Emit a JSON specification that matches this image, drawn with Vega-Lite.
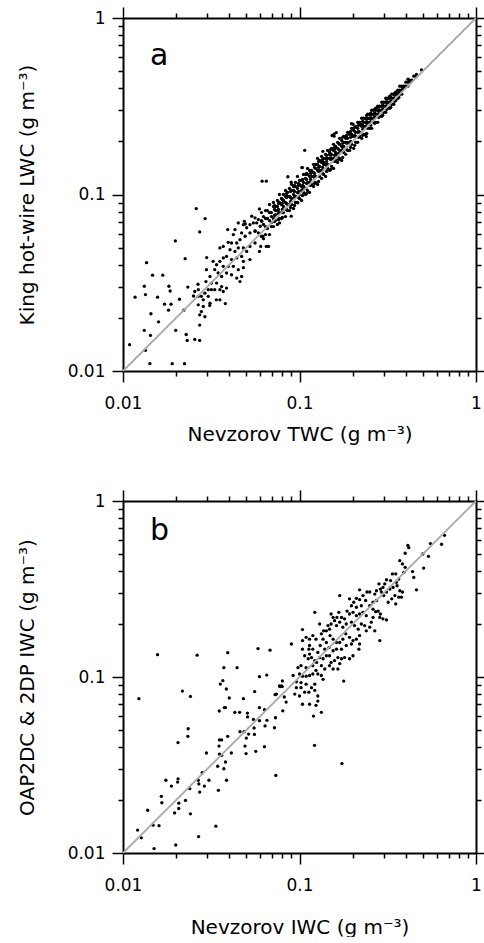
{
"$schema": "https://vega.github.io/schema/vega-lite/v6.json",
"background": "white",
"padding": {"left": 17, "top": 6, "right": 0, "bottom": 0},
"spacing": 45,
"config": {
  "view": {"stroke": null},
  "font": "DejaVu Sans",
  "axis": {
    "ticks": true, "tickOpacity": 1,
    "domainColor": "#000000", "domainWidth": 2, "tickColor": "#000000", "tickWidth": 1.5,
    "labelFont": "DejaVu Sans", "labelFontSize": 17, "labelColor": "black",
    "titleFont": "DejaVu Sans", "titleFontSize": 20, "titleFontWeight": "normal", "titleColor": "black",
    "grid": false, "labelFlush": false, "labelOverlap": false
  }
},
"datasets": {
  "diag": [{"x":0.01,"y":0.01},{"x":1,"y":1}],
  "a": [
{"x":0.0109,"y":0.0141},{"x":0.0117,"y":0.0262},{"x":0.0132,"y":0.0302},{"x":0.0134,"y":0.0271},{"x":0.0136,"y":0.0411},{"x":0.0147,"y":0.0349},{"x":0.0168,"y":0.0349},{"x":0.0132,"y":0.017},{"x":0.0144,"y":0.0211},{"x":0.0159,"y":0.019},{"x":0.0143,"y":0.0159},{"x":0.0142,"y":0.011},{"x":0.019,"y":0.011},{"x":0.0223,"y":0.011},{"x":0.0157,"y":0.0262},{"x":0.0182,"y":0.0302},{"x":0.0185,"y":0.0284},{"x":0.0172,"y":0.0239},{"x":0.0187,"y":0.0239},{"x":0.0181,"y":0.0221},{"x":0.0199,"y":0.017},{"x":0.0198,"y":0.0546},{"x":0.0225,"y":0.0433},{"x":0.026,"y":0.0832},{"x":0.0292,"y":0.073},{"x":0.0272,"y":0.0614},{"x":0.0209,"y":0.0255},{"x":0.0221,"y":0.0221},{"x":0.0228,"y":0.0161},{"x":0.0231,"y":0.0149},{"x":0.0272,"y":0.0149},{"x":0.0251,"y":0.0266},{"x":0.0272,"y":0.0182},{"x":0.0298,"y":0.0439},{"x":0.0233,"y":0.0299},{"x":0.0266,"y":0.031},{"x":0.038,"y":0.0241},{"x":0.0338,"y":0.0253},{"x":0.031,"y":0.0235},{"x":0.0255,"y":0.0151},{"x":0.0614,"y":0.119},{"x":0.0649,"y":0.119},{"x":0.107,"y":0.178},{"x":0.056,"y":0.0621},{"x":0.0493,"y":0.0681},{"x":0.153,"y":0.216},{"x":0.197,"y":0.252},{"x":0.0134,"y":0.0131},
{"x":0.0536,"y":0.0754},{"x":0.056,"y":0.0738},{"x":0.0585,"y":0.0721},{"x":0.0611,"y":0.0705},{"x":0.0572,"y":0.069},{"x":0.0548,"y":0.069},{"x":0.0599,"y":0.0661},{"x":0.0524,"y":0.0675},{"x":0.0502,"y":0.0648},{"x":0.0481,"y":0.0675},{"x":0.045,"y":0.069},{"x":0.0431,"y":0.0633},{"x":0.0422,"y":0.0593},{"x":0.047,"y":0.0606},{"x":0.0492,"y":0.058},{"x":0.0524,"y":0.0606},{"x":0.056,"y":0.0619},{"x":0.0585,"y":0.0606},{"x":0.0619,"y":0.058},{"x":0.046,"y":0.0555},{"x":0.0441,"y":0.0531},{"x":0.0412,"y":0.0531},{"x":0.0395,"y":0.0536},{"x":0.037,"y":0.0508},{"x":0.0354,"y":0.0498},{"x":0.0404,"y":0.0487},{"x":0.0431,"y":0.0476},{"x":0.045,"y":0.0498},{"x":0.0481,"y":0.0498},{"x":0.0502,"y":0.0476},{"x":0.0524,"y":0.0508},{"x":0.056,"y":0.0531},{"x":0.0603,"y":0.0508},{"x":0.047,"y":0.0446},{"x":0.0441,"y":0.0437},{"x":0.0412,"y":0.0428},{"x":0.0386,"y":0.0446},{"x":0.037,"y":0.0437},{"x":0.0354,"y":0.0418},{"x":0.0339,"y":0.04},{"x":0.0324,"y":0.0418},{"x":0.037,"y":0.0392},{"x":0.0395,"y":0.0392},{"x":0.0422,"y":0.0392},{"x":0.045,"y":0.0375},{"x":0.0481,"y":0.0418},{"x":0.047,"y":0.0343},{"x":0.0441,"y":0.0336},{"x":0.0412,"y":0.0351},{"x":0.0386,"y":0.0359},{"x":0.0362,"y":0.0343},{"x":0.0346,"y":0.0359},{"x":0.0331,"y":0.0375},{"x":0.0311,"y":0.0343},{"x":0.0297,"y":0.0375},{"x":0.0295,"y":0.0321},{"x":0.0317,"y":0.0315},{"x":0.0339,"y":0.0315},{"x":0.0362,"y":0.0301},{"x":0.0386,"y":0.0295},{"x":0.037,"y":0.0282},{"x":0.0354,"y":0.0289},{"x":0.0331,"y":0.0289},{"x":0.0317,"y":0.0289},{"x":0.0304,"y":0.0289},{"x":0.0291,"y":0.0276},{"x":0.0278,"y":0.0265},{"x":0.0267,"y":0.0289},{"x":0.0255,"y":0.0282},{"x":0.0267,"y":0.0265},{"x":0.0285,"y":0.0253},{"x":0.0304,"y":0.0265},{"x":0.0311,"y":0.0242},{"x":0.0285,"y":0.0232},{"x":0.0267,"y":0.0237},{"x":0.0278,"y":0.0217},{"x":0.0291,"y":0.0203},{"x":0.0272,"y":0.0208},{"x":0.0354,"y":0.0253},{"x":0.046,"y":0.0321},{"x":0.0481,"y":0.0385},{"x":0.0524,"y":0.0428},
{"x":0.103,"y":0.142},{"x":0.104,"y":0.142},{"x":0.0897,"y":0.1175},{"x":0.0859,"y":0.1261},{"x":0.0593,"y":0.0829},{"x":0.1616,"y":0.2242},{"x":0.157,"y":0.214},{"x":0.1356,"y":0.1756},{"x":0.0978,"y":0.0897},{"x":0.0897,"y":0.0754},{"x":0.077,"y":0.069},{"x":0.0648,"y":0.0508},{"x":0.0668,"y":0.0508},{"x":0.0593,"y":0.0476},{"x":0.0487,"y":0.0705},{"x":0.0392,"y":0.0633},{"x":0.157,"y":0.22},{"x":0.201,"y":0.25},{"x":0.239,"y":0.213},{"x":0.491,"y":0.508},{"x":0.46,"y":0.479},{"x":0.412,"y":0.45},
{"x":0.0609,"y":0.0712},{"x":0.0609,"y":0.0578},{"x":0.0609,"y":0.079},
{"x":0.0625,"y":0.0676},{"x":0.0625,"y":0.075},{"x":0.0625,"y":0.0562},
{"x":0.0642,"y":0.0658},{"x":0.0642,"y":0.0731},{"x":0.0642,"y":0.0811},{"x":0.0642,"y":0.0593},
{"x":0.0658,"y":0.0731},{"x":0.0658,"y":0.0642},{"x":0.0658,"y":0.0811},
{"x":0.0676,"y":0.0712},{"x":0.0676,"y":0.079},{"x":0.0676,"y":0.0593},{"x":0.0676,"y":0.0878},
{"x":0.0693,"y":0.079},{"x":0.0693,"y":0.0693},{"x":0.0693,"y":0.075},{"x":0.0693,"y":0.0658},
{"x":0.0712,"y":0.0855},{"x":0.0712,"y":0.0731},{"x":0.0712,"y":0.0658},{"x":0.0712,"y":0.0901},
{"x":0.0731,"y":0.0811},{"x":0.0731,"y":0.0855},{"x":0.0731,"y":0.0712},{"x":0.0731,"y":0.077},
{"x":0.075,"y":0.0925},{"x":0.075,"y":0.0811},{"x":0.075,"y":0.0676},{"x":0.075,"y":0.0855},
{"x":0.077,"y":0.079},{"x":0.077,"y":0.0901},{"x":0.077,"y":0.0731},{"x":0.077,"y":0.1},
{"x":0.079,"y":0.0878},{"x":0.079,"y":0.0949},{"x":0.079,"y":0.079},{"x":0.079,"y":0.0731},
{"x":0.0811,"y":0.0925},{"x":0.0811,"y":0.0855},{"x":0.0811,"y":0.1},{"x":0.0811,"y":0.079},
{"x":0.0833,"y":0.0901},{"x":0.0833,"y":0.0974},{"x":0.0833,"y":0.075},{"x":0.0833,"y":0.1054},
{"x":0.0855,"y":0.0878},{"x":0.0855,"y":0.0974},{"x":0.0855,"y":0.0811},{"x":0.0855,"y":0.1027},
{"x":0.0878,"y":0.0974},{"x":0.0878,"y":0.1082},{"x":0.0878,"y":0.0878},{"x":0.0878,"y":0.0811},
{"x":0.0901,"y":0.1054},{"x":0.0901,"y":0.0949},{"x":0.0901,"y":0.0878},{"x":0.0901,"y":0.114},
{"x":0.0925,"y":0.1},{"x":0.0925,"y":0.1054},{"x":0.0925,"y":0.0833},{"x":0.0925,"y":0.111},
{"x":0.0949,"y":0.0974},{"x":0.0949,"y":0.111},{"x":0.0949,"y":0.117},{"x":0.0949,"y":0.0901},
{"x":0.0974,"y":0.1082},{"x":0.0974,"y":0.1027},{"x":0.0974,"y":0.0901},{"x":0.0974,"y":0.1266},
{"x":0.1,"y":0.114},{"x":0.1,"y":0.1201},{"x":0.1,"y":0.1},{"x":0.1,"y":0.0949},
{"x":0.1027,"y":0.111},{"x":0.1027,"y":0.1201},{"x":0.1027,"y":0.0925},{"x":0.1027,"y":0.1054},
{"x":0.1054,"y":0.1299},{"x":0.1054,"y":0.117},{"x":0.1054,"y":0.1027},{"x":0.1054,"y":0.111},
{"x":0.1082,"y":0.1233},{"x":0.1082,"y":0.1299},{"x":0.1082,"y":0.1},{"x":0.1082,"y":0.1082},
{"x":0.111,"y":0.117},{"x":0.111,"y":0.1299},{"x":0.111,"y":0.1054},{"x":0.111,"y":0.1405},
{"x":0.114,"y":0.1266},{"x":0.114,"y":0.117},{"x":0.114,"y":0.1027},{"x":0.114,"y":0.1369},
{"x":0.117,"y":0.1369},{"x":0.117,"y":0.1266},{"x":0.117,"y":0.114},{"x":0.117,"y":0.1334},
{"x":0.1201,"y":0.1481},{"x":0.1201,"y":0.1266},{"x":0.1201,"y":0.111},{"x":0.1201,"y":0.1334},
{"x":0.1233,"y":0.1405},{"x":0.1233,"y":0.1266},{"x":0.1233,"y":0.117},{"x":0.1233,"y":0.1481},
{"x":0.1266,"y":0.1369},{"x":0.1266,"y":0.1481},{"x":0.1266,"y":0.114},{"x":0.1266,"y":0.1602},
{"x":0.1299,"y":0.1442},{"x":0.1299,"y":0.1369},{"x":0.1299,"y":0.1266},{"x":0.1299,"y":0.156},
{"x":0.1334,"y":0.152},{"x":0.1334,"y":0.1644},{"x":0.1334,"y":0.1233},{"x":0.1334,"y":0.1369},
{"x":0.1369,"y":0.1602},{"x":0.1369,"y":0.1481},{"x":0.1369,"y":0.1299},{"x":0.1369,"y":0.152},
{"x":0.1405,"y":0.1481},{"x":0.1405,"y":0.1688},{"x":0.1405,"y":0.1266},{"x":0.1405,"y":0.1602},
{"x":0.1442,"y":0.1602},{"x":0.1442,"y":0.1481},{"x":0.1442,"y":0.1405},{"x":0.1442,"y":0.1778},
{"x":0.1481,"y":0.1733},{"x":0.1481,"y":0.1602},{"x":0.1481,"y":0.1369},{"x":0.1481,"y":0.1688},
{"x":0.152,"y":0.1826},{"x":0.152,"y":0.1602},{"x":0.152,"y":0.1442},{"x":0.152,"y":0.1688},
{"x":0.156,"y":0.1778},{"x":0.156,"y":0.1602},{"x":0.156,"y":0.1405},{"x":0.156,"y":0.1924},
{"x":0.1602,"y":0.1733},{"x":0.1602,"y":0.1874},{"x":0.1602,"y":0.156},{"x":0.1602,"y":0.1688},
{"x":0.1644,"y":0.1826},{"x":0.1644,"y":0.1974},{"x":0.1644,"y":0.152},{"x":0.1644,"y":0.1644},
{"x":0.1688,"y":0.1924},{"x":0.1688,"y":0.1778},{"x":0.1688,"y":0.1602},{"x":0.1688,"y":0.2081},
{"x":0.1733,"y":0.2027},{"x":0.1733,"y":0.1874},{"x":0.1733,"y":0.156},{"x":0.1733,"y":0.1778},
{"x":0.1778,"y":0.1974},{"x":0.1778,"y":0.2136},{"x":0.1778,"y":0.1733},{"x":0.1778,"y":0.1874},
{"x":0.1826,"y":0.2081},{"x":0.1826,"y":0.1974},{"x":0.1826,"y":0.1688},{"x":0.1826,"y":0.2136},
{"x":0.1874,"y":0.1974},{"x":0.1874,"y":0.225},{"x":0.1874,"y":0.1778},{"x":0.1874,"y":0.2081},
{"x":0.1924,"y":0.225},{"x":0.1924,"y":0.1974},{"x":0.1924,"y":0.1778},{"x":0.1924,"y":0.2192},
{"x":0.1974,"y":0.2192},{"x":0.1974,"y":0.2136},{"x":0.1974,"y":0.1924},{"x":0.1974,"y":0.2372},
{"x":0.2027,"y":0.231},{"x":0.2027,"y":0.2136},{"x":0.2027,"y":0.1826},{"x":0.2027,"y":0.2372},
{"x":0.2081,"y":0.225},{"x":0.2081,"y":0.2434},{"x":0.2081,"y":0.1974},{"x":0.2081,"y":0.2136},
{"x":0.2136,"y":0.2372},{"x":0.2136,"y":0.2565},{"x":0.2136,"y":0.1974},{"x":0.2136,"y":0.225},
{"x":0.2192,"y":0.2499},{"x":0.2192,"y":0.225},{"x":0.2192,"y":0.2136},{"x":0.2192,"y":0.2565},
{"x":0.225,"y":0.2434},{"x":0.225,"y":0.2499},{"x":0.225,"y":0.2081},{"x":0.225,"y":0.2703},
{"x":0.231,"y":0.2703},{"x":0.231,"y":0.2434},{"x":0.231,"y":0.2192},{"x":0.231,"y":0.2565},
{"x":0.2372,"y":0.2703},{"x":0.2372,"y":0.2434},{"x":0.2372,"y":0.2192},{"x":0.2372,"y":0.2565},
{"x":0.2434,"y":0.2703},{"x":0.2434,"y":0.2848},{"x":0.2434,"y":0.2372},{"x":0.2434,"y":0.2565},
{"x":0.2499,"y":0.2703},{"x":0.2499,"y":0.2848},{"x":0.2499,"y":0.2372},{"x":0.2499,"y":0.2565},
{"x":0.2565,"y":0.2848},{"x":0.2565,"y":0.2703},{"x":0.2565,"y":0.2372},{"x":0.2565,"y":0.3001},
{"x":0.2634,"y":0.3001},{"x":0.2634,"y":0.2848},{"x":0.2634,"y":0.2565},{"x":0.2634,"y":0.2703},
{"x":0.2703,"y":0.2848},{"x":0.2703,"y":0.3001},{"x":0.2703,"y":0.2565},{"x":0.2703,"y":0.3081},
{"x":0.2775,"y":0.3001},{"x":0.2775,"y":0.2848},{"x":0.2775,"y":0.2565},{"x":0.2775,"y":0.3162},
{"x":0.2848,"y":0.3162},{"x":0.2848,"y":0.3001},{"x":0.2848,"y":0.2775},
{"x":0.2924,"y":0.3162},{"x":0.2924,"y":0.3332},{"x":0.2924,"y":0.2775},{"x":0.2924,"y":0.3001},
{"x":0.3001,"y":0.3162},{"x":0.3001,"y":0.3332},{"x":0.3001,"y":0.2924},
{"x":0.3081,"y":0.3332},{"x":0.3081,"y":0.3162},{"x":0.3081,"y":0.2924},{"x":0.3081,"y":0.3511},
{"x":0.3162,"y":0.3511},{"x":0.3162,"y":0.3332},{"x":0.3162,"y":0.3081},
{"x":0.3246,"y":0.3511},{"x":0.3246,"y":0.3332},{"x":0.3246,"y":0.3081},{"x":0.3246,"y":0.3605},
{"x":0.3332,"y":0.3511},{"x":0.3332,"y":0.37},{"x":0.3332,"y":0.3246},
{"x":0.3421,"y":0.37},{"x":0.3421,"y":0.3511},{"x":0.3421,"y":0.3246},
{"x":0.3511,"y":0.37},{"x":0.3511,"y":0.3798},{"x":0.3511,"y":0.3421},
{"x":0.3605,"y":0.3899},{"x":0.3605,"y":0.37},{"x":0.3605,"y":0.3511},
{"x":0.37,"y":0.3899},{"x":0.37,"y":0.4108},{"x":0.37,"y":0.37},
{"x":0.3798,"y":0.3899},{"x":0.3798,"y":0.4108},{"x":0.3798,"y":0.37},
{"x":0.3899,"y":0.4108},{"x":0.3899,"y":0.4003},
{"x":0.4003,"y":0.4108},{"x":0.4003,"y":0.4329},
{"x":0.4108,"y":0.4329},{"x":0.4108,"y":0.4108},
{"x":0.4217,"y":0.4329},{"x":0.4217,"y":0.4444},
{"x":0.4329,"y":0.4444},{"x":0.4444,"y":0.4683},{"x":0.4561,"y":0.4683},
{"x":0.0721,"y":0.076},{"x":0.0721,"y":0.0822},{"x":0.0721,"y":0.0702},{"x":0.0721,"y":0.0866},
{"x":0.076,"y":0.0822},{"x":0.076,"y":0.089},{"x":0.076,"y":0.0721},{"x":0.076,"y":0.078},
{"x":0.08,"y":0.089},{"x":0.08,"y":0.0822},{"x":0.08,"y":0.0741},{"x":0.08,"y":0.0937},
{"x":0.0844,"y":0.089},{"x":0.0844,"y":0.0962},{"x":0.0844,"y":0.0822},{"x":0.0844,"y":0.1013},
{"x":0.089,"y":0.0962},{"x":0.089,"y":0.1041},{"x":0.089,"y":0.0844},{"x":0.089,"y":0.0913},
{"x":0.0937,"y":0.1041},{"x":0.0937,"y":0.0962},{"x":0.0937,"y":0.0866},{"x":0.0937,"y":0.1125},
{"x":0.0987,"y":0.1041},{"x":0.0987,"y":0.1125},{"x":0.0987,"y":0.0962},{"x":0.0987,"y":0.1155},
{"x":0.1041,"y":0.1125},{"x":0.1041,"y":0.1217},{"x":0.1041,"y":0.0987},{"x":0.1041,"y":0.1068},
{"x":0.1096,"y":0.1217},{"x":0.1096,"y":0.1155},{"x":0.1096,"y":0.1013},{"x":0.1096,"y":0.1316},
{"x":0.1155,"y":0.1217},{"x":0.1155,"y":0.1316},{"x":0.1155,"y":0.1125},{"x":0.1155,"y":0.1352},
{"x":0.1217,"y":0.1316},{"x":0.1217,"y":0.1424},{"x":0.1217,"y":0.1155},{"x":0.1217,"y":0.1249},
{"x":0.1283,"y":0.1424},{"x":0.1283,"y":0.1352},{"x":0.1283,"y":0.1185},{"x":0.1283,"y":0.154},
{"x":0.1352,"y":0.1424},{"x":0.1352,"y":0.154},{"x":0.1352,"y":0.1316},{"x":0.1352,"y":0.1581},
{"x":0.1424,"y":0.154},{"x":0.1424,"y":0.1666},{"x":0.1424,"y":0.1352},{"x":0.1424,"y":0.1461},
{"x":0.1501,"y":0.1666},{"x":0.1501,"y":0.1581},{"x":0.1501,"y":0.1387},{"x":0.1501,"y":0.1801},
{"x":0.1581,"y":0.1666},{"x":0.1581,"y":0.1801},{"x":0.1581,"y":0.154},{"x":0.1581,"y":0.185},
{"x":0.1666,"y":0.1801},{"x":0.1666,"y":0.1949},{"x":0.1666,"y":0.1581},{"x":0.1666,"y":0.171},
{"x":0.1756,"y":0.1949},{"x":0.1756,"y":0.185},{"x":0.1756,"y":0.1623},{"x":0.1756,"y":0.2108},
{"x":0.185,"y":0.1949},{"x":0.185,"y":0.2108},{"x":0.185,"y":0.1801},{"x":0.185,"y":0.2164},
{"x":0.1949,"y":0.2108},{"x":0.1949,"y":0.228},{"x":0.1949,"y":0.185},{"x":0.1949,"y":0.2},
{"x":0.2054,"y":0.228},{"x":0.2054,"y":0.2164},{"x":0.2054,"y":0.1899},{"x":0.2054,"y":0.2403},
{"x":0.2164,"y":0.228},{"x":0.2164,"y":0.2466},{"x":0.2164,"y":0.2108},{"x":0.2164,"y":0.2532},
{"x":0.228,"y":0.2466},{"x":0.228,"y":0.2599},{"x":0.228,"y":0.2164},{"x":0.228,"y":0.234},
{"x":0.2403,"y":0.2669},{"x":0.2403,"y":0.2532},{"x":0.2403,"y":0.2221},{"x":0.2403,"y":0.2812},
{"x":0.2532,"y":0.2669},{"x":0.2532,"y":0.2886},{"x":0.2532,"y":0.2466},{"x":0.2532,"y":0.2812},
{"x":0.2669,"y":0.2886},{"x":0.2669,"y":0.2739},{"x":0.2669,"y":0.2532},{"x":0.2669,"y":0.3041},
{"x":0.2812,"y":0.2963},{"x":0.2812,"y":0.3122},{"x":0.2812,"y":0.2739},
{"x":0.2963,"y":0.3204},{"x":0.2963,"y":0.3041},{"x":0.2963,"y":0.2812},
{"x":0.3122,"y":0.3289},{"x":0.3122,"y":0.3466},{"x":0.3122,"y":0.3041},
{"x":0.3289,"y":0.3557},{"x":0.3289,"y":0.3376},{"x":0.3289,"y":0.3122},
{"x":0.3466,"y":0.3653},{"x":0.3466,"y":0.3749},{"x":0.3466,"y":0.3376},
{"x":0.3653,"y":0.3848},{"x":0.3653,"y":0.3749},{"x":0.3653,"y":0.3557},
{"x":0.3848,"y":0.4056},{"x":0.3848,"y":0.395}
  ],
  "b": [
{"x":0.0123,"y":0.0753},{"x":0.0157,"y":0.134},{"x":0.0263,"y":0.133},{"x":0.0217,"y":0.0832},{"x":0.0241,"y":0.0776},{"x":0.0234,"y":0.0508},{"x":0.0233,"y":0.046},{"x":0.0205,"y":0.0424},{"x":0.0392,"y":0.1375},{"x":0.0373,"y":0.113},{"x":0.0443,"y":0.113},{"x":0.0368,"y":0.0953},{"x":0.0356,"y":0.0912},{"x":0.0385,"y":0.0855},{"x":0.04,"y":0.076},{"x":0.0351,"y":0.0641},{"x":0.0375,"y":0.067},{"x":0.0381,"y":0.067},{"x":0.043,"y":0.063},{"x":0.0458,"y":0.063},{"x":0.0481,"y":0.0753},{"x":0.0582,"y":0.145},{"x":0.0681,"y":0.142},{"x":0.0593,"y":0.1004},{"x":0.0652,"y":0.1026},{"x":0.0557,"y":0.0826},{"x":0.0593,"y":0.067},{"x":0.0633,"y":0.0652},{"x":0.0507,"y":0.0624},{"x":0.0508,"y":0.0593},{"x":0.0548,"y":0.0574},{"x":0.0654,"y":0.0567},{"x":0.0731,"y":0.0587},{"x":0.0721,"y":0.0515},{"x":0.0638,"y":0.0527},{"x":0.0555,"y":0.0472},{"x":0.0485,"y":0.0489},{"x":0.046,"y":0.0489},{"x":0.05,"y":0.045},{"x":0.0491,"y":0.0405},{"x":0.0498,"y":0.0367},{"x":0.0565,"y":0.0378},{"x":0.0633,"y":0.0402},{"x":0.0734,"y":0.0276},{"x":0.0352,"y":0.0439},{"x":0.035,"y":0.0405},{"x":0.0362,"y":0.0439},{"x":0.0392,"y":0.046},{"x":0.0352,"y":0.0365},{"x":0.0362,"y":0.0359},{"x":0.0411,"y":0.037},{"x":0.0297,"y":0.037},{"x":0.0381,"y":0.0329},{"x":0.0344,"y":0.0311},{"x":0.0373,"y":0.0301},{"x":0.0386,"y":0.0259},{"x":0.0281,"y":0.0286},{"x":0.0267,"y":0.0259},{"x":0.0269,"y":0.0247},{"x":0.0307,"y":0.0259},{"x":0.0289,"y":0.024},{"x":0.0272,"y":0.0222},{"x":0.0347,"y":0.0227},{"x":0.0239,"y":0.0232},{"x":0.0226,"y":0.0199},{"x":0.0207,"y":0.0192},{"x":0.0207,"y":0.0179},{"x":0.0196,"y":0.0169},{"x":0.0241,"y":0.0167},{"x":0.0175,"y":0.0259},{"x":0.0188,"y":0.024},{"x":0.0205,"y":0.0264},{"x":0.0204,"y":0.0253},{"x":0.0165,"y":0.021},{"x":0.0166,"y":0.0193},{"x":0.0138,"y":0.0175},{"x":0.016,"y":0.0143},{"x":0.0148,"y":0.0144},{"x":0.0121,"y":0.0135},{"x":0.0127,"y":0.0122},{"x":0.015,"y":0.0106},{"x":0.0199,"y":0.0111},{"x":0.0268,"y":0.0124},{"x":0.0336,"y":0.0142},{"x":0.1216,"y":0.0409},{"x":0.174,"y":0.0322},{"x":0.178,"y":0.0948},{"x":0.505,"y":0.416},{"x":0.5,"y":0.5},{"x":0.538,"y":0.485},{"x":0.552,"y":0.573},{"x":0.638,"y":0.568},{"x":0.663,"y":0.638},{"x":0.411,"y":0.56},{"x":0.416,"y":0.543},
{"x":0.0727,"y":0.0794},{"x":0.0777,"y":0.0882},{"x":0.0798,"y":0.0882},{"x":0.0593,"y":0.0565},{"x":0.0553,"y":0.0513},{"x":0.0515,"y":0.0474},{"x":0.0804,"y":0.0642},{"x":0.12,"y":0.06},{"x":0.133,"y":0.063},{"x":0.397,"y":0.505},
{"x":0.37,"y":0.458},{"x":0.383,"y":0.439},{"x":0.397,"y":0.42},{"x":0.39,"y":0.393},{"x":0.437,"y":0.397},{"x":0.444,"y":0.368},{"x":0.46,"y":0.313},{"x":0.351,"y":0.385},{"x":0.336,"y":0.385},{"x":0.365,"y":0.36},{"x":0.354,"y":0.345},{"x":0.328,"y":0.353},{"x":0.311,"y":0.357},{"x":0.304,"y":0.338},{"x":0.297,"y":0.323},{"x":0.282,"y":0.338},{"x":0.287,"y":0.316},{"x":0.273,"y":0.309},{"x":0.267,"y":0.296},{"x":0.325,"y":0.316},{"x":0.339,"y":0.323},{"x":0.357,"y":0.33},{"x":0.37,"y":0.309},{"x":0.383,"y":0.304},{"x":0.365,"y":0.284},{"x":0.378,"y":0.284},{"x":0.347,"y":0.29},{"x":0.333,"y":0.278},{"x":0.351,"y":0.26},{"x":0.318,"y":0.266},{"x":0.3,"y":0.29},{"x":0.311,"y":0.304},{"x":0.291,"y":0.304},{"x":0.25,"y":0.304},{"x":0.241,"y":0.304},{"x":0.219,"y":0.313},{"x":0.229,"y":0.29},{"x":0.237,"y":0.272},{"x":0.219,"y":0.275},{"x":0.21,"y":0.28},{"x":0.203,"y":0.266},{"x":0.197,"y":0.254},{"x":0.21,"y":0.249},{"x":0.224,"y":0.254},{"x":0.25,"y":0.254},{"x":0.261,"y":0.266},{"x":0.273,"y":0.272},{"x":0.261,"y":0.243},{"x":0.27,"y":0.235},{"x":0.279,"y":0.237},{"x":0.287,"y":0.228},{"x":0.285,"y":0.218},{"x":0.297,"y":0.214},{"x":0.311,"y":0.211},{"x":0.261,"y":0.218},{"x":0.255,"y":0.205},{"x":0.239,"y":0.223},{"x":0.229,"y":0.233},{"x":0.219,"y":0.228},{"x":0.21,"y":0.223},{"x":0.201,"y":0.233},{"x":0.192,"y":0.228},{"x":0.186,"y":0.237},{"x":0.18,"y":0.214},{"x":0.173,"y":0.218},{"x":0.167,"y":0.233},{"x":0.163,"y":0.218},{"x":0.169,"y":0.205},{"x":0.158,"y":0.209},{"x":0.155,"y":0.218},{"x":0.151,"y":0.2},{"x":0.148,"y":0.187},{"x":0.145,"y":0.196},{"x":0.142,"y":0.183},{"x":0.137,"y":0.183},{"x":0.133,"y":0.176},{"x":0.13,"y":0.2},{"x":0.122,"y":0.233},{"x":0.169,"y":0.29},{"x":0.192,"y":0.278},{"x":0.151,"y":0.228},{"x":0.162,"y":0.196},{"x":0.176,"y":0.192},{"x":0.184,"y":0.2},{"x":0.197,"y":0.205},{"x":0.205,"y":0.196},{"x":0.215,"y":0.187},{"x":0.224,"y":0.2},{"x":0.234,"y":0.196},{"x":0.239,"y":0.183},{"x":0.25,"y":0.192},{"x":0.267,"y":0.183},{"x":0.285,"y":0.161},{"x":0.219,"y":0.172},{"x":0.21,"y":0.164},{"x":0.201,"y":0.161},{"x":0.192,"y":0.168},{"x":0.183,"y":0.176},{"x":0.176,"y":0.164},{"x":0.169,"y":0.157},{"x":0.162,"y":0.157},{"x":0.155,"y":0.164},{"x":0.149,"y":0.172},{"x":0.142,"y":0.157},{"x":0.147,"y":0.147},{"x":0.139,"y":0.144},{"x":0.136,"y":0.164},{"x":0.131,"y":0.151},{"x":0.127,"y":0.138},{"x":0.124,"y":0.164},{"x":0.119,"y":0.172},{"x":0.114,"y":0.164},{"x":0.109,"y":0.168},{"x":0.104,"y":0.161},{"x":0.104,"y":0.186},{"x":0.113,"y":0.144},{"x":0.119,"y":0.144},{"x":0.114,"y":0.135},{"x":0.112,"y":0.127},{"x":0.117,"y":0.129},{"x":0.122,"y":0.124},{"x":0.125,"y":0.121},{"x":0.13,"y":0.129},{"x":0.136,"y":0.127},{"x":0.142,"y":0.132},{"x":0.148,"y":0.132},{"x":0.155,"y":0.141},{"x":0.162,"y":0.144},{"x":0.173,"y":0.144},{"x":0.184,"y":0.151},{"x":0.197,"y":0.154},{"x":0.219,"y":0.154},{"x":0.217,"y":0.144},{"x":0.201,"y":0.132},{"x":0.192,"y":0.127},{"x":0.18,"y":0.129},{"x":0.173,"y":0.127},{"x":0.165,"y":0.129},{"x":0.158,"y":0.124},{"x":0.151,"y":0.121},{"x":0.148,"y":0.116},{"x":0.155,"y":0.111},{"x":0.169,"y":0.119},{"x":0.165,"y":0.111},{"x":0.139,"y":0.111},{"x":0.133,"y":0.116},{"x":0.124,"y":0.109},{"x":0.119,"y":0.116},{"x":0.109,"y":0.113},{"x":0.102,"y":0.116},{"x":0.098,"y":0.113},{"x":0.1,"y":0.104},{"x":0.104,"y":0.101},{"x":0.109,"y":0.101},{"x":0.114,"y":0.102},{"x":0.119,"y":0.104},{"x":0.127,"y":0.104},{"x":0.133,"y":0.102},{"x":0.136,"y":0.097},{"x":0.122,"y":0.091},{"x":0.117,"y":0.087},{"x":0.109,"y":0.091},{"x":0.102,"y":0.093},{"x":0.096,"y":0.087},{"x":0.102,"y":0.087},{"x":0.107,"y":0.082},{"x":0.113,"y":0.082},{"x":0.122,"y":0.084},{"x":0.127,"y":0.078},{"x":0.1,"y":0.078},{"x":0.094,"y":0.08},{"x":0.092,"y":0.102},{"x":0.096,"y":0.094},{"x":0.08,"y":0.095},{"x":0.077,"y":0.089},{"x":0.079,"y":0.089},{"x":0.074,"y":0.08},{"x":0.082,"y":0.077},{"x":0.084,"y":0.072},{"x":0.104,"y":0.07},{"x":0.114,"y":0.07},{"x":0.124,"y":0.069},{"x":0.127,"y":0.073},{"x":0.09,"y":0.154},{"x":0.104,"y":0.144},{"x":0.114,"y":0.151},{"x":0.107,"y":0.132}
  ]
},
"vconcat": [
  {
    "width": 353, "height": 353,
    "layer": [
      {"data": {"name": "a"},
       "mark": {"type": "point", "filled": true, "shape": "circle", "size": 11, "color": "black", "opacity": 1},
       "encoding": {
         "x": {"field": "x", "type": "quantitative", "scale": {"type": "log", "domain": [0.01, 1], "nice": false},
               "axis": {"orient": "bottom", "title": "Nevzorov TWC (g m⁻³)", "ticks": true, "labelPadding": 13, "titlePadding": 13, "values": [0.01, 0.1, 1], "tickSize": 11,
                        "labelExpr": "datum.value==0.01?'0.01':datum.value==0.1?'0.1':'1'"}},
         "y": {"field": "y", "type": "quantitative", "scale": {"type": "log", "domain": [0.01, 1], "nice": false},
               "axis": {"orient": "left", "title": "King hot-wire LWC (g m⁻³)", "ticks": true, "labelPadding": 7, "titlePadding": 30, "values": [0.01, 0.1, 1], "tickSize": 11,
                        "labelExpr": "datum.value==0.01?'0.01':datum.value==0.1?'0.1':'1'"}}
       }},
      {"data": {"name": "diag"},
       "mark": {"type": "line", "color": "#aaaaaa", "strokeWidth": 1.8},
       "encoding": {
         "x": {"field": "x", "type": "quantitative", "axis": {"orient": "top", "ticks": true, "labels": false, "title": null, "values": [0.01, 0.1, 1], "tickSize": 11}},
         "y": {"field": "y", "type": "quantitative", "axis": {"orient": "right", "ticks": true, "labels": false, "title": null, "values": [0.01, 0.1, 1], "tickSize": 11}}
       }},
      {"data": {"name": "diag"},
       "mark": {"type": "line", "opacity": 0},
       "encoding": {
         "x": {"field": "x", "type": "quantitative", "axis": {"orient": "bottom", "ticks": true, "labels": false, "title": null, "domain": false, "tickSize": 5, "values": [0.02,0.03,0.04,0.05,0.06,0.07,0.08,0.09,0.2,0.3,0.4,0.5,0.6,0.7,0.8,0.9]}},
         "y": {"field": "y", "type": "quantitative", "axis": {"orient": "left", "ticks": true, "labels": false, "title": null, "domain": false, "tickSize": 5, "values": [0.02,0.03,0.04,0.05,0.06,0.07,0.08,0.09,0.2,0.3,0.4,0.5,0.6,0.7,0.8,0.9]}}
       }},
      {"data": {"name": "diag"},
       "mark": {"type": "line", "opacity": 0},
       "encoding": {
         "x": {"field": "x", "type": "quantitative", "axis": {"orient": "top", "ticks": true, "labels": false, "title": null, "domain": false, "tickSize": 5, "values": [0.02,0.03,0.04,0.05,0.06,0.07,0.08,0.09,0.2,0.3,0.4,0.5,0.6,0.7,0.8,0.9]}},
         "y": {"field": "y", "type": "quantitative", "axis": {"orient": "right", "ticks": true, "labels": false, "title": null, "domain": false, "tickSize": 5, "values": [0.02,0.03,0.04,0.05,0.06,0.07,0.08,0.09,0.2,0.3,0.4,0.5,0.6,0.7,0.8,0.9]}}
       }},
      {"data": {"values": [{"x": 0.0142, "y": 0.54, "t": "a"}]},
       "mark": {"type": "text", "fontSize": 30, "align": "left", "baseline": "alphabetic", "font": "DejaVu Sans", "color": "black"},
       "encoding": {
         "x": {"field": "x", "type": "quantitative", "axis": null},
         "y": {"field": "y", "type": "quantitative", "axis": null},
         "text": {"field": "t"}
       }}
    ],
    "resolve": {"axis": {"x": "independent", "y": "independent"}}
  },
  {
    "width": 353, "height": 352,
    "layer": [
      {"data": {"name": "b"},
       "mark": {"type": "point", "filled": true, "shape": "circle", "size": 11, "color": "black", "opacity": 1},
       "encoding": {
         "x": {"field": "x", "type": "quantitative", "scale": {"type": "log", "domain": [0.01, 1], "nice": false},
               "axis": {"orient": "bottom", "title": "Nevzorov IWC (g m⁻³)", "ticks": true, "labelPadding": 13, "titlePadding": 24, "values": [0.01, 0.1, 1], "tickSize": 11,
                        "labelExpr": "datum.value==0.01?'0.01':datum.value==0.1?'0.1':'1'"}},
         "y": {"field": "y", "type": "quantitative", "scale": {"type": "log", "domain": [0.01, 1], "nice": false},
               "axis": {"orient": "left", "title": "OAP2DC & 2DP IWC (g m⁻³)", "ticks": true, "labelPadding": 7, "titlePadding": 30, "values": [0.01, 0.1, 1], "tickSize": 11,
                        "labelExpr": "datum.value==0.01?'0.01':datum.value==0.1?'0.1':'1'"}}
       }},
      {"data": {"name": "diag"},
       "mark": {"type": "line", "color": "#aaaaaa", "strokeWidth": 1.8},
       "encoding": {
         "x": {"field": "x", "type": "quantitative", "axis": {"orient": "top", "ticks": true, "labels": false, "title": null, "values": [0.01, 0.1, 1], "tickSize": 11}},
         "y": {"field": "y", "type": "quantitative", "axis": {"orient": "right", "ticks": true, "labels": false, "title": null, "values": [0.01, 0.1, 1], "tickSize": 11}}
       }},
      {"data": {"name": "diag"},
       "mark": {"type": "line", "opacity": 0},
       "encoding": {
         "x": {"field": "x", "type": "quantitative", "axis": {"orient": "bottom", "ticks": true, "labels": false, "title": null, "domain": false, "tickSize": 5, "values": [0.02,0.03,0.04,0.05,0.06,0.07,0.08,0.09,0.2,0.3,0.4,0.5,0.6,0.7,0.8,0.9]}},
         "y": {"field": "y", "type": "quantitative", "axis": {"orient": "left", "ticks": true, "labels": false, "title": null, "domain": false, "tickSize": 5, "values": [0.02,0.03,0.04,0.05,0.06,0.07,0.08,0.09,0.2,0.3,0.4,0.5,0.6,0.7,0.8,0.9]}}
       }},
      {"data": {"name": "diag"},
       "mark": {"type": "line", "opacity": 0},
       "encoding": {
         "x": {"field": "x", "type": "quantitative", "axis": {"orient": "top", "ticks": true, "labels": false, "title": null, "domain": false, "tickSize": 5, "values": [0.02,0.03,0.04,0.05,0.06,0.07,0.08,0.09,0.2,0.3,0.4,0.5,0.6,0.7,0.8,0.9]}},
         "y": {"field": "y", "type": "quantitative", "axis": {"orient": "right", "ticks": true, "labels": false, "title": null, "domain": false, "tickSize": 5, "values": [0.02,0.03,0.04,0.05,0.06,0.07,0.08,0.09,0.2,0.3,0.4,0.5,0.6,0.7,0.8,0.9]}}
       }},
      {"data": {"values": [{"x": 0.0142, "y": 0.6, "t": "b"}]},
       "mark": {"type": "text", "fontSize": 30, "align": "left", "baseline": "alphabetic", "font": "DejaVu Sans", "color": "black"},
       "encoding": {
         "x": {"field": "x", "type": "quantitative", "axis": null},
         "y": {"field": "y", "type": "quantitative", "axis": null},
         "text": {"field": "t"}
       }}
    ],
    "resolve": {"axis": {"x": "independent", "y": "independent"}}
  }
]
}
